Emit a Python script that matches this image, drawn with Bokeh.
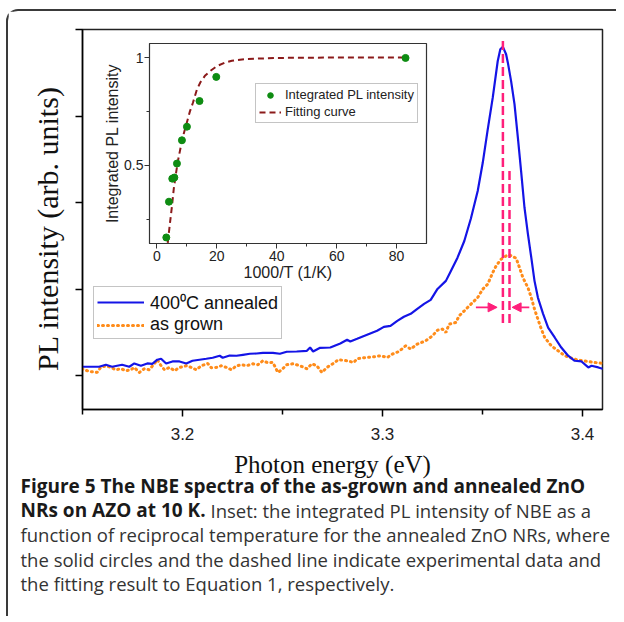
import math
from bokeh.plotting import figure
from bokeh.models import Range1d, FixedTicker, Legend, LegendItem, Arrow, NormalHead, ColumnDataSource
from bokeh.layouts import column
from bokeh.embed import file_html
from bokeh.resources import INLINE
from bokeh.core.properties import value

# ---------------- data: main spectra ----------------
energy_annealed = [3.1499, 3.1583, 3.1617, 3.1648, 3.1698, 3.1734, 3.1759, 3.1792, 3.1824, 3.1849,
                   3.1874, 3.1893, 3.1918, 3.1950, 3.1985, 3.2019, 3.2050, 3.2085, 3.2119, 3.2151,
                   3.2186, 3.2201, 3.2236, 3.2270, 3.2302, 3.2337, 3.2370, 3.2402, 3.2452, 3.2487,
                   3.2521, 3.2571, 3.2622, 3.2638, 3.2653, 3.2688, 3.2739, 3.2789, 3.2823, 3.2839,
                   3.2873, 3.2923, 3.2973, 3.3007, 3.3040, 3.3074, 3.3107, 3.3141, 3.3174, 3.3208,
                   3.3241, 3.3275, 3.3317, 3.3342, 3.3375, 3.3409, 3.3442, 3.3476, 3.3501, 3.3526,
                   3.3551, 3.3576, 3.3589, 3.3602, 3.3618, 3.3627, 3.3643, 3.3660, 3.3677, 3.3693,
                   3.3710, 3.3727, 3.3744, 3.3760, 3.3777, 3.3803, 3.3828, 3.3861, 3.3894, 3.3928,
                   3.3961, 3.3995, 3.4029, 3.4045, 3.4079, 3.4107]
intensity_annealed = [0.104, 0.104, 0.127, 0.104, 0.127, 0.104, 0.142, 0.115, 0.142, 0.138,
                      0.185, 0.196, 0.142, 0.165, 0.165, 0.142, 0.173, 0.185, 0.196, 0.208,
                      0.231, 0.208, 0.234, 0.231, 0.242, 0.254, 0.257, 0.265, 0.265, 0.254,
                      0.277, 0.280, 0.288, 0.326, 0.280, 0.323, 0.326, 0.373, 0.415, 0.396,
                      0.427, 0.473, 0.519, 0.565, 0.577, 0.634, 0.681, 0.715, 0.773, 0.830,
                      0.877, 1.003, 1.096, 1.211, 1.364, 1.557, 1.817, 2.134, 2.457, 2.843,
                      3.210, 3.633, 3.772, 3.800, 3.714, 3.614, 3.403, 3.137, 2.749, 2.364,
                      1.941, 1.638, 1.364, 1.096, 0.903, 0.715, 0.557, 0.442, 0.326, 0.231,
                      0.173, 0.165, 0.096, 0.115, 0.096, 0.077]

energy_grown = [3.1497, 3.1533, 3.1573, 3.1591, 3.1617, 3.1642, 3.1667, 3.1692, 3.1717, 3.1742,
                3.1759, 3.1784, 3.1809, 3.1834, 3.1859, 3.1874, 3.1893, 3.1910, 3.1935, 3.1960,
                3.1985, 3.2019, 3.2044, 3.2069, 3.2094, 3.2126, 3.2144, 3.2169, 3.2194, 3.2220,
                3.2245, 3.2270, 3.2295, 3.2320, 3.2352, 3.2377, 3.2402, 3.2427, 3.2452, 3.2477,
                3.2496, 3.2521, 3.2553, 3.2588, 3.2622, 3.2647, 3.2672, 3.2697, 3.2722, 3.2754,
                3.2779, 3.2823, 3.2856, 3.2873, 3.2906, 3.2956, 3.2990, 3.3024, 3.3049, 3.3082,
                3.3116, 3.3141, 3.3174, 3.3216, 3.3250, 3.3275, 3.3300, 3.3317, 3.3333, 3.3367,
                3.3383, 3.3409, 3.3442, 3.3476, 3.3501, 3.3526, 3.3551, 3.3568, 3.3593, 3.3618,
                3.3635, 3.3668, 3.3685, 3.3702, 3.3727, 3.3744, 3.3760, 3.3777, 3.3794, 3.3811,
                3.3844, 3.3878, 3.3911, 3.3945, 3.3978, 3.4029, 3.4062, 3.4107]
intensity_grown = [0.081, 0.050, 0.038, 0.096, 0.115, 0.096, 0.069, 0.081, 0.058, 0.069,
                   0.096, 0.038, 0.081, 0.069, 0.138, 0.185, 0.115, 0.069, 0.096, 0.058,
                   0.096, 0.115, 0.096, 0.069, 0.115, 0.142, 0.092, 0.096, 0.115, 0.096,
                   0.069, 0.115, 0.127, 0.115, 0.138, 0.127, 0.173, 0.150, 0.153, 0.038,
                   0.069, 0.127, 0.138, 0.115, 0.081, 0.138, 0.115, 0.038, 0.096, 0.142,
                   0.185, 0.173, 0.153, 0.196, 0.208, 0.219, 0.231, 0.211, 0.250, 0.280,
                   0.346, 0.308, 0.366, 0.404, 0.461, 0.527, 0.539, 0.499, 0.596, 0.615,
                   0.692, 0.750, 0.827, 0.903, 1.000, 1.058, 1.191, 1.269, 1.346, 1.384,
                   1.396, 1.358, 1.249, 1.134, 1.018, 0.903, 0.769, 0.654, 0.539, 0.442,
                   0.346, 0.288, 0.231, 0.204, 0.181, 0.165, 0.153, 0.142]

# peak markers (vertical dashed lines) and arrows
peak_energy = [3.3602, 3.3635]
peak_line_top = [3.91, 2.40]
peak_line_bottom = [0.61, 0.61]
arrow_start = [3.3467, 3.3734]
arrow_end = [3.3573, 3.3648]
arrow_level = [0.79, 0.79]

x_major_ticks = [3.2, 3.3, 3.4]
x_minor_ticks = [3.15, 3.25, 3.35]
y_major_ticks = [0, 1, 2, 3, 4]

legend_labels = ["400\u2070C annealed", "as grown"]
x_title = "Photon energy (eV)"
y_title = "PL intensity (arb. units)"

# ---------------- data: inset ----------------
inv_temp = [3.11, 4.0, 5.1, 5.8, 6.67, 8.33, 10.0, 14.2, 19.8, 83.0]
integrated_pl = [0.165, 0.331, 0.438, 0.443, 0.508, 0.616, 0.679, 0.798, 0.910, 0.998]
fit_x = [3.6, 4.4, 5.0, 5.6, 6.2, 7.0, 8.0, 9.0, 10.0, 11.0, 12.0, 13.3, 14.5, 16.0,
         18.0, 20.0, 22.5, 25.0, 30.0, 40.0, 60.0, 83.3]
fit_y = [0.14, 0.24, 0.31, 0.39, 0.45, 0.52, 0.59, 0.65, 0.70, 0.75, 0.79, 0.85, 0.885, 0.915,
         0.94, 0.96, 0.975, 0.985, 0.993, 0.998, 1.0, 1.0]
inset_x_ticks = [0, 20, 40, 60, 80]
inset_x_minor = [10, 30, 50, 70]
inset_y_ticks = [0.5, 1]
inset_y_minor = [0.25, 0.75]
inset_legend_labels = ["Integrated PL intensity", "Fitting curve"]

caption_bold = ["Figure 5 The NBE spectra of the as-grown and annealed ZnO", "NRs on AZO at 10 K."]
caption_rest = ["Inset: the integrated PL intensity of NBE as a",
                "function of reciprocal temperature for the annealed ZnO NRs, where",
                "the solid circles and the dashed line indicate experimental data and",
                "the fitting result to Equation 1, respectively."]

BLUE = "#1414e6"
ORANGE = "#ff8c1a"
PINK = "#ff1f7a"
GREEN = "#0e8c12"
FIT = "#8b1a1a"
SANS = "Liberation Sans"
SERIF = "Liberation Serif"

W, H = 608, 605   # page content area (pixels)

# ---------------- main figure ----------------
main = figure(width=W, height=H, x_range=Range1d(3.15, 3.41), y_range=Range1d(-0.39, 4.0),
              output_backend="svg", toolbar_location=None, frame_align=False,
              min_border_left=74, min_border_right=14, min_border_top=18, min_border_bottom=207)
main.grid.visible = False
main.outline_line_color = "#222222"
main.outline_line_width = 1.5
main.background_fill_color = "white"

xa = main.xaxis[0]
xa.ticker = FixedTicker(ticks=x_major_ticks, minor_ticks=x_minor_ticks)
xa.major_tick_out = 7
xa.major_tick_in = 0
xa.minor_tick_out = 5
xa.minor_tick_in = 0
xa.axis_line_width = 1.5
xa.major_tick_line_width = 1.5
xa.minor_tick_line_width = 1.5
xa.major_label_text_font = SANS
xa.major_label_text_font_size = "17px"
xa.major_label_text_color = "#222222"
xa.major_label_standoff = 11

ya = main.yaxis[0]
ya.ticker = FixedTicker(ticks=y_major_ticks)
ya.major_tick_out = 7
ya.major_tick_in = 0
ya.minor_tick_line_color = None
ya.axis_line_width = 1.5
ya.major_tick_line_width = 1.5
ya.major_label_overrides = {t: "" for t in y_major_ticks}
ya.major_label_standoff = 0

r_grown = main.line(energy_grown, intensity_grown, line_color=ORANGE, line_width=3,
                    line_dash="1 4", line_cap="round")
r_ann = main.line(energy_annealed, intensity_annealed, line_color=BLUE, line_width=2.2)

main.segment(x0=peak_energy, y0=peak_line_bottom, x1=peak_energy, y1=peak_line_top,
             line_color=PINK, line_width=2.5, line_dash="9 4")

arrow_src = ColumnDataSource(dict(x0=arrow_start, x1=arrow_end, y=arrow_level))
main.add_layout(Arrow(end=NormalHead(size=9, fill_color=PINK, line_color=PINK),
                      x_start="x0", y_start="y", x_end="x1", y_end="y",
                      source=arrow_src, line_color=PINK, line_width=1.8))

legend = Legend(items=[LegendItem(label=legend_labels[0], renderers=[r_ann]),
                       LegendItem(label=legend_labels[1], renderers=[r_grown])],
                location=(11, 70), label_text_font=SANS, label_text_font_size="18px",
                label_text_color="#111111",
                glyph_width=47, glyph_height=18, label_height=18, spacing=0, padding=3,
                label_standoff=6, margin=0, border_line_color="#8a8a8a", border_line_width=1,
                background_fill_alpha=1)
main.add_layout(legend)

# ---------------- text overlay: axis titles and caption (pixel units) ----------------
txt = figure(width=W, height=H, x_range=Range1d(0, W), y_range=Range1d(H, 0),
             output_backend="svg", toolbar_location=None, min_border=0, frame_align=False,
             x_axis_location=None, y_axis_location=None,
             styles={"position": "absolute", "left": "0px", "top": "0px"})
txt.grid.visible = False
txt.outline_line_color = None
txt.background_fill_color = None
txt.border_fill_color = None
txt.text(x=[39], y=[217], text=[y_title], angle=math.pi / 2, text_font=value(SERIF),
         text_font_size="30px", text_align="center", text_baseline="middle", text_color="#111111")
txt.text(x=[324], y=[453], text=[x_title], text_font=value(SERIF), text_font_size="25px",
         text_align="center", text_baseline="middle", text_color="#111111")
line_y = [474 + 24.5 * i for i in range(5)]
txt.text(x=[12, 12], y=line_y[:2], text=caption_bold, text_font=value("Open Sans"),
         text_font_size="19px", text_font_style="bold", text_baseline="middle",
         text_color="#1a1a1a")
txt.text(x=[202, 12, 12, 12], y=line_y[1:], text=caption_rest, text_font=value("Open Sans"),
         text_font_size="18.5px", text_baseline="middle", text_color="#333333")

# ---------------- inset figure (placed over the main frame) ----------------
inset = figure(width=361, height=250, x_range=Range1d(-2.5, 90), y_range=Range1d(0.137, 1.065),
               output_backend="svg", toolbar_location=None, frame_align=False,
               min_border_left=80, min_border_right=4, min_border_top=5, min_border_bottom=45,
               styles={"position": "absolute", "left": "61px", "top": "27px"})
inset.grid.visible = False
inset.outline_line_color = "#333333"
inset.outline_line_width = 1.2
inset.border_fill_color = None
inset.background_fill_color = "white"

ix = inset.xaxis[0]
ix.ticker = FixedTicker(ticks=inset_x_ticks, minor_ticks=inset_x_minor)
iy = inset.yaxis[0]
iy.ticker = FixedTicker(ticks=inset_y_ticks, minor_ticks=inset_y_minor)
iy.major_label_overrides = {1: "1", 0.5: "0.5"}
for ax in (ix, iy):
    ax.major_tick_out = 5
    ax.major_tick_in = 0
    ax.minor_tick_out = 3
    ax.minor_tick_in = 0
    ax.axis_line_color = "#333333"
    ax.major_tick_line_color = "#333333"
    ax.minor_tick_line_color = "#333333"
    ax.major_label_text_font = SANS
    ax.major_label_text_font_size = "14px"
    ax.major_label_text_color = "#222222"
    ax.axis_label_text_font = SANS
    ax.axis_label_text_font_size = "16px"
    ax.axis_label_text_font_style = "normal"
    ax.axis_label_text_color = "#222222"
ix.major_label_standoff = 2
iy.major_label_standoff = 1
ix.axis_label = "1000/T (1/K)"
ix.axis_label_standoff = 0
iy.axis_label = "Integrated PL intensity"
iy.axis_label_standoff = 0

r_fit = inset.line(fit_x, fit_y, line_color=FIT, line_width=2, line_dash="6 4")
r_pts = inset.scatter(inv_temp, integrated_pl, size=7, fill_color=GREEN, line_color=GREEN)

ileg = Legend(items=[LegendItem(label=inset_legend_labels[0], renderers=[r_pts]),
                     LegendItem(label=inset_legend_labels[1], renderers=[r_fit])],
              location=(106, 120), label_text_font=SANS, label_text_font_size="13px",
              label_text_color="#222222",
              glyph_width=22, glyph_height=14, label_height=14, spacing=2, padding=3,
              label_standoff=4, margin=0, border_line_color="#8a8a8a", border_line_width=1)
inset.add_layout(ileg)

layout = column(main, txt, inset, margin=(9, 0, 0, 6),
                styles={"border-left": "2px solid #3a3a3a", "border-top": "2px solid #3a3a3a",
                        "border-top-left-radius": "12px"})

open("out.html", "w").write(file_html(layout, INLINE))
